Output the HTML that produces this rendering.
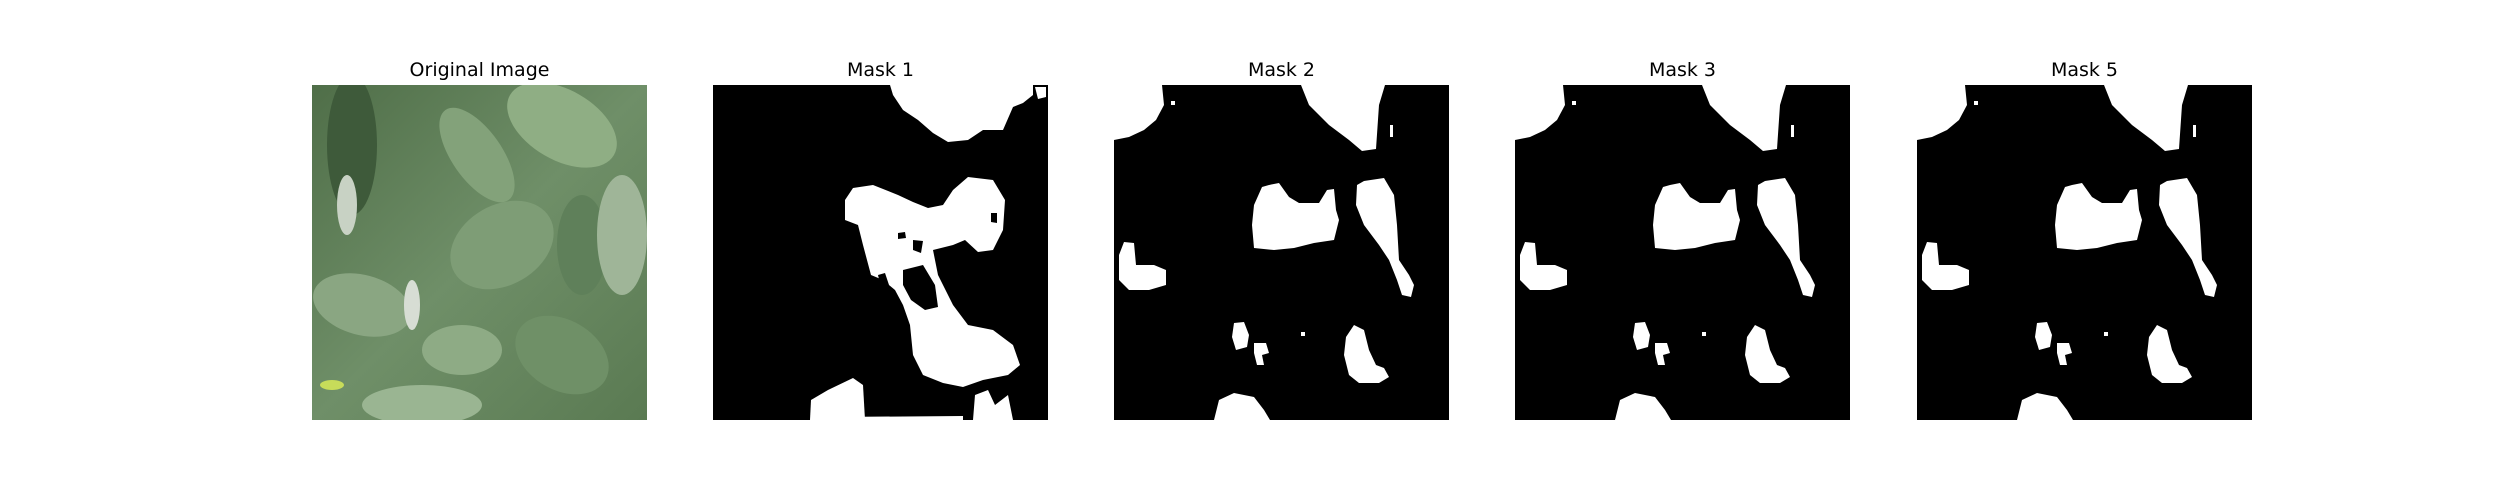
<!DOCTYPE html>
<html><head><meta charset="utf-8"><style>
body{margin:0;background:#fff;width:2500px;height:500px;overflow:hidden;position:relative;font-family:"DejaVu Sans","Liberation Sans",sans-serif;}
.title{position:absolute;top:59px;width:335px;text-align:center;font-size:19px;color:#000;}
svg.panel{position:absolute;top:85px;width:335px;height:335px;}
</style></head><body>
<div class="title" style="left:312px">Original Image</div>
<div class="title" style="left:713px">Mask 1</div>
<div class="title" style="left:1114px">Mask 2</div>
<div class="title" style="left:1515px">Mask 3</div>
<div class="title" style="left:1917px">Mask 5</div>

<svg class="panel" style="left:312px" viewBox="0 0 335 335">
<defs><linearGradient id="g" x1="0" y1="0" x2="1" y2="1"><stop offset="0" stop-color="#4f6e48"/><stop offset="0.5" stop-color="#6f8f68"/><stop offset="1" stop-color="#5a7a52"/></linearGradient></defs>
<rect width="335" height="335" fill="url(#g)"/>
<ellipse cx="40" cy="60" rx="25" ry="70" fill="#3e5a3a"/>
<ellipse cx="35" cy="120" rx="10" ry="30" fill="#c8d2c4"/>
<ellipse cx="250" cy="40" rx="60" ry="35" fill="#8fae84" transform="rotate(30 250 40)"/>
<ellipse cx="165" cy="70" rx="25" ry="55" fill="#83a27a" transform="rotate(-35 165 70)"/>
<ellipse cx="190" cy="160" rx="55" ry="40" fill="#7e9d76" transform="rotate(-30 190 160)"/>
<ellipse cx="270" cy="160" rx="25" ry="50" fill="#5f805a"/>
<ellipse cx="310" cy="150" rx="25" ry="60" fill="#9fb598"/>
<ellipse cx="50" cy="220" rx="50" ry="30" fill="#8aa682" transform="rotate(15 50 220)"/>
<ellipse cx="150" cy="265" rx="40" ry="25" fill="#8eab85"/>
<ellipse cx="250" cy="270" rx="50" ry="35" fill="#6f9067" transform="rotate(30 250 270)"/>
<ellipse cx="110" cy="320" rx="60" ry="20" fill="#9ab592"/>
<ellipse cx="100" cy="220" rx="8" ry="25" fill="#d7ddd4"/>
<ellipse cx="20" cy="300" rx="12" ry="5" fill="#c7dc5a"/>
</svg>

<svg class="panel" style="left:713px" viewBox="0 0 335 335" id="m1"><rect width="335" height="335" fill="#000"/></svg>
<svg class="panel" style="left:1114px" viewBox="0 0 335 335" id="m2"><rect width="335" height="335" fill="#000"/></svg>
<svg class="panel" style="left:1515px" viewBox="0 0 335 335" id="m3"><rect width="335" height="335" fill="#000"/></svg>
<svg class="panel" style="left:1917px" viewBox="0 0 335 335" id="m5"><rect width="335" height="335" fill="#000"/></svg>

<script>
const mask1Blobs = [
 [[177,0],[320,0],[320,10],[310,18],[300,22],[290,45],[270,45],[255,55],[235,57],[220,48],[205,35],[190,25],[180,10]],
 [[322,2],[333,2],[333,12],[325,14]],
 [[140,103],[160,100],[185,110],[200,117],[215,123],[230,120],[240,105],[255,92],[280,95],[292,115],[290,145],[280,165],[265,167],[252,155],[240,160],[220,165],[225,190],[240,220],[255,240],[280,245],[300,260],[307,280],[295,290],[270,295],[250,302],[230,298],[210,290],[200,270],[197,240],[190,220],[182,205],[170,195],[158,190],[150,160],[145,140],[132,135],[132,115]],
 [[97,335],[98,315],[115,305],[140,293],[150,300],[152,335]],
 [[260,335],[262,310],[275,305],[282,320],[295,310],[300,335]],
 [[120,335],[120,332],[250,331],[250,335]]
];
const mask1Holes = [
 [[185,148],[192,147],[193,153],[185,154]],
 [[200,155],[210,156],[208,168],[200,165]],
 [[190,185],[210,180],[222,200],[225,222],[212,225],[198,215],[190,200]],
 [[165,190],[172,188],[176,200],[168,203]],
 [[278,128],[284,128],[284,138],[278,137]]
];
const maskBlobs = [
 [[0,0],[48,0],[50,20],[42,35],[30,45],[15,52],[0,55]],
 [[187,0],[271,0],[265,20],[262,64],[248,66],[235,55],[215,40],[195,20]],
 [[276,40],[279,40],[279,52],[276,52]],
 [[57,16],[61,16],[61,20],[57,20]],
 [[155,100],[165,98],[175,112],[185,118],[205,118],[213,105],[220,104],[222,125],[225,135],[220,155],[200,158],[180,163],[160,165],[140,163],[138,140],[140,120],[148,102]],
 [[250,96],[270,93],[280,110],[283,140],[285,175],[295,190],[300,200],[297,212],[288,210],[283,195],[275,175],[265,160],[250,140],[242,120],[243,100]],
 [[10,157],[20,158],[22,180],[40,180],[52,185],[52,200],[35,205],[15,205],[5,195],[5,170]],
 [[120,238],[130,237],[135,250],[133,262],[122,265],[118,252]],
 [[140,258],[152,258],[155,268],[148,270],[150,280],[143,280],[140,268]],
 [[187,247],[191,247],[191,251],[187,251]],
 [[240,240],[250,245],[255,265],[262,280],[270,283],[275,292],[265,298],[245,298],[235,290],[230,270],[232,252]],
 [[100,335],[105,315],[120,308],[140,312],[150,325],[156,335]]
];
function draw(id, blobs, holes){
  const svg=document.getElementById(id);
  const ns='http://www.w3.org/2000/svg';
  blobs.forEach(b=>{const p=document.createElementNS(ns,'polygon');
    p.setAttribute('points',b.map(q=>q.join(',')).join(' '));p.setAttribute('fill','#fff');
    
    
    svg.appendChild(p);});
  (holes||[]).forEach(b=>{const p=document.createElementNS(ns,'polygon');
    p.setAttribute('points',b.map(q=>q.join(',')).join(' '));p.setAttribute('fill','#000');
    
    
    svg.appendChild(p);});
}
draw('m1',mask1Blobs,mask1Holes);
draw('m2',maskBlobs);draw('m3',maskBlobs);draw('m5',maskBlobs);
</script>
</body></html>
